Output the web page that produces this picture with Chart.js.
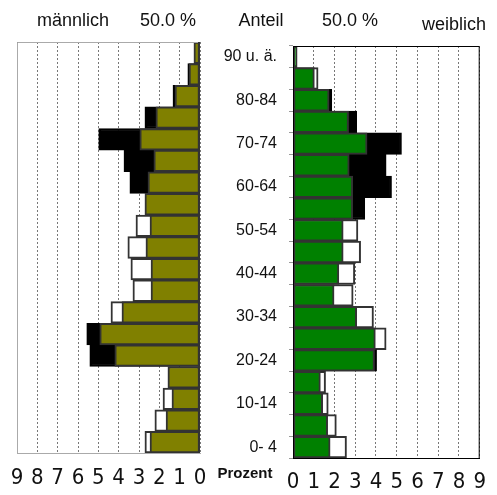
<!DOCTYPE html>
<html lang="de">
<head>
<meta charset="UTF-8">
<title>Bevölkerungspyramide</title>
<script src="https://cdn.jsdelivr.net/npm/chart.js"></script>
<style>
    body { margin: 0; background: #fff; }
    #wrap { position: relative; width: 497px; height: 495px; overflow: hidden; font-family: "Liberation Sans", Arial, sans-serif; color: #111; }
    canvas { position: absolute; left: 0; top: 0; }
    .lbl { position: absolute; font-size: 18px; white-space: nowrap; line-height: 1; transform: translateX(-50%); }
    #prozent { font-weight: bold; font-size: 15px; }
</style>
</head>
<body>
<div id="wrap">
    <canvas id="men" width="497" height="495"></canvas>
    <canvas id="women" width="497" height="495"></canvas>
    <div class="lbl" style="left:73px; top:11px;">männlich</div>
    <div class="lbl" style="left:168px; top:11px;">50.0 %</div>
    <div class="lbl" style="left:261px; top:11px;">Anteil</div>
    <div class="lbl" style="left:350px; top:11px;">50.0 %</div>
    <div class="lbl" style="left:454px; top:15px;">weiblich</div>
    <div class="lbl" id="prozent" style="left:245px; top:465px;">Prozent</div>
</div>
<script>
    // age groups, top to bottom
    const ageGroups = ['90 u. ä.', '85-89', '80-84', '75-79', '70-74', '65-69', '60-64', '55-59', '50-54', '45-49',
        '40-44', '35-39', '30-34', '25-29', '20-24', '15-19', '10-14', '5-9', '0- 4'];
    const xTicks = [0, 1, 2, 3, 4, 5, 6, 7, 8, 9];

    // share in percent
    const maleShare = [0.3, 0.54, 1.23, 2.17, 2.96, 2.27, 2.56, 2.71, 2.46, 2.66, 2.41, 2.41, 3.84, 4.93, 4.19, 1.58, 1.38, 1.67, 2.46];
    const maleRefPlus = [null, 0.6, 1.33, 2.71, 4.98, 3.74, 3.45, null, null, null, null, null, null, 5.57, 5.42, null, null, null, null];
    const maleRefMinus = [null, null, null, null, null, null, null, null, 3.15, 3.55, 3.4, 3.3, 4.38, null, null, null, 1.82, 2.22, 2.71];

    const femaleShare = [0.2, 1.03, 1.74, 2.68, 3.57, 2.71, 2.88, 2.88, 2.42, 2.42, 2.21, 1.98, 3.07, 3.97, 3.93, 1.32, 1.43, 1.67, 1.79];
    const femaleRefPlus = [null, null, 1.87, 3.07, 5.23, 4.49, 4.75, 3.46, null, null, null, null, null, null, 4.03, null, null, null, null];
    const femaleRefMinus = [null, 1.21, null, null, null, null, null, null, 3.13, 3.26, 2.98, 2.9, 3.88, 4.49, null, 1.57, 1.7, 2.09, 2.58];

    // draws the box around the plot area
    const frame = {
        id: 'frame',
        afterDraw(chart, args, opts) {
            const a = chart.chartArea, ctx = chart.ctx;
            ctx.save();
            ctx.lineWidth = 1;
            ctx.strokeStyle = opts.color;
            ctx.beginPath();
            ctx.moveTo(a.left + 0.5, a.bottom);
            ctx.lineTo(a.left + 0.5, a.top + 0.5);
            ctx.lineTo(a.right - 0.5, a.top + 0.5);
            ctx.lineTo(a.right - 0.5, a.bottom);
            ctx.stroke();
            if (opts.side) {
                ctx.strokeStyle = opts.side;
                ctx.lineWidth = 2;
                ctx.beginPath();
                ctx.moveTo(a.right - 1, a.top);
                ctx.lineTo(a.right - 1, a.bottom);
                ctx.stroke();
            }
            ctx.restore();
        }
    };

    function bars(main, plus, minus, color) {
        const base = { barPercentage: 1, categoryPercentage: 1, grouped: false, borderSkipped: false, borderWidth: 2 };
        return [
            Object.assign({ data: main, backgroundColor: color, borderColor: '#333' }, base),
            Object.assign({ data: plus, backgroundColor: '#000', borderColor: '#000' }, base),
            Object.assign({ data: minus, backgroundColor: '#fff', borderColor: '#333' }, base)
        ];
    }

    const tickFont = { family: '"Liberation Sans Narrow", "DejaVu Sans Condensed", Arial', size: 22 };

    function xScale(reverse, borderColor, height, pad) {
        return {
            type: 'linear', min: 0, max: 9, reverse: reverse,
            afterBuildTicks: s => { s.ticks = xTicks.map(v => ({ value: v })); },
            afterFit: s => { s.height = height; },
            grid: { color: '#777', lineWidth: 1, drawTicks: false },
            border: { color: borderColor, width: 1, dash: [2, 2] },
            ticks: { color: '#111', font: tickFont, padding: pad, maxRotation: 0 }
        };
    }

    new Chart(document.getElementById('men'), {
        type: 'bar',
        data: { labels: ageGroups, datasets: bars(maleShare, maleRefPlus, maleRefMinus, '#808000') },
        options: {
            indexAxis: 'y', responsive: false, animation: false,
            layout: { padding: { left: 17, right: 297, top: 42, bottom: 0 } },
            scales: {
                x: xScale(true, '#aaa', 42, 12),
                y: { display: false }
            },
            plugins: { legend: { display: false }, tooltip: { enabled: false }, frame: { color: '#aaa', side: '#333' } }
        },
        plugins: [frame]
    });

    new Chart(document.getElementById('women'), {
        type: 'bar',
        data: { labels: ageGroups, datasets: bars(femaleShare, femaleRefPlus, femaleRefMinus, '#008000') },
        options: {
            indexAxis: 'y', responsive: false, animation: false,
            layout: { padding: { left: 200, right: 12, top: 46, bottom: 0 } },
            scales: {
                x: xScale(false, '#000', 37, 11),
                y: {
                    afterFit: s => { s.width = 93; },
                    grid: { drawOnChartArea: false, tickLength: 4, tickColor: '#999' },
                    border: { color: '#000', width: 1 },
                    ticks: {
                        color: '#111', padding: 12, autoSkip: false,
                        font: { family: '"Liberation Sans", Arial', size: 16 },
                        callback: (v, i) => i % 2 === 0 ? ageGroups[i] : ''
                    }
                }
            },
            plugins: { legend: { display: false }, tooltip: { enabled: false }, frame: { color: '#000' } }
        },
        plugins: [frame]
    });
</script>
</body>
</html>
